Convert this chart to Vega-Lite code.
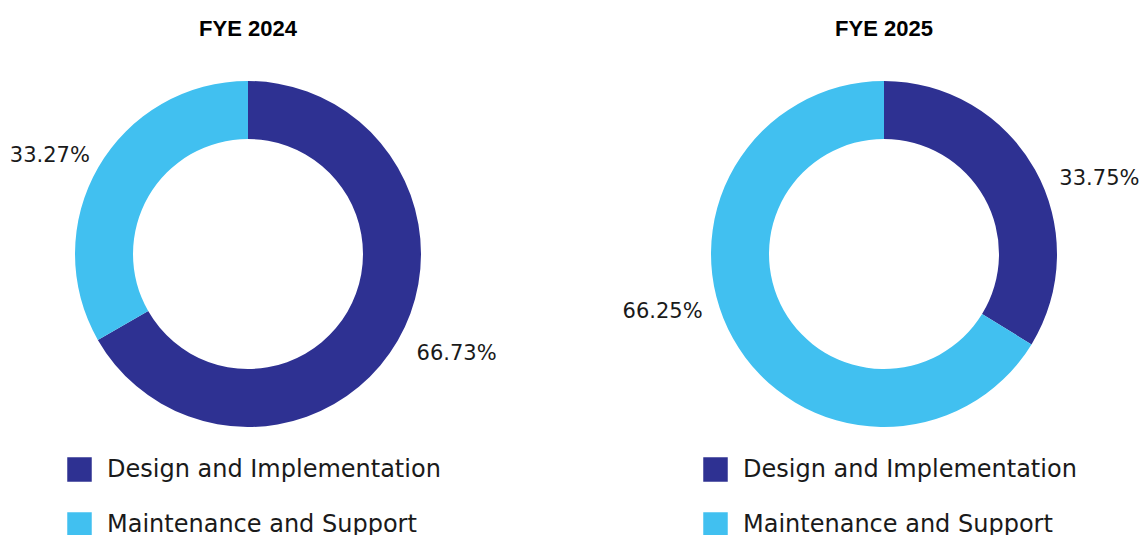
{
  "$schema": "https://vega.github.io/schema/vega-lite/v6.json",
  "padding": {"left": 5, "top": 18, "right": 5, "bottom": 5},
  "background": "white",
  "config": {
    "view": {"stroke": null},
    "title": {"font": "Liberation Sans", "fontSize": 22, "fontWeight": "bold", "color": "#000000", "anchor": "middle", "offset": 5},
    "legend": {
      "orient": "none",
      "legendX": 62,
      "legendY": 411,
      "title": null,
      "symbolType": "square",
      "symbolSize": 600,
      "symbolStrokeWidth": 0,
      "symbolOpacity": 1,
      "labelFont": "DejaVu Sans",
      "labelFontSize": 24,
      "labelColor": "#1a1a1a",
      "labelOffset": 15,
      "rowPadding": 30,
      "labelLimit": 500
    }
  },
  "spacing": 125,
  "resolve": {"legend": {"color": "independent"}},
  "datasets": {
    "shares": [
      {"year": "FYE 2024", "category": "Design and Implementation", "value": 66.73, "label": "66.73%"},
      {"year": "FYE 2024", "category": "Maintenance and Support", "value": 33.27, "label": "33.27%"},
      {"year": "FYE 2025", "category": "Design and Implementation", "value": 33.75, "label": "33.75%"},
      {"year": "FYE 2025", "category": "Maintenance and Support", "value": 66.25, "label": "66.25%"}
    ]
  },
  "hconcat": [
    {
      "title": "FYE 2024",
      "width": 486,
      "height": 416,
      "data": {"name": "shares"},
      "transform": [{"filter": "datum.year === 'FYE 2024'"}],
      "encoding": {
        "theta": {"field": "value", "type": "quantitative", "stack": true},
        "color": {
          "field": "category", "type": "nominal",
          "scale": {"domain": ["Design and Implementation", "Maintenance and Support"], "range": ["#2E3192", "#41C0F0"]}
        },
        "order": {"field": "category", "sort": "ascending"}
      },
      "layer": [
        {"mark": {"type": "arc", "outerRadius": 173, "innerRadius": 115, "stroke": null}},
        {
          "mark": {"type": "text", "radius": 225, "font": "DejaVu Sans", "fontSize": 21, "dx": 14, "dy": -13},
          "encoding": {
            "color": {"value": "#1a1a1a"},
            "text": {"condition": {"test": "datum.category === 'Design and Implementation'", "field": "label"}, "value": ""}
          }
        },
        {
          "mark": {"type": "text", "radius": 221, "font": "DejaVu Sans", "fontSize": 21, "dx": -7, "dy": 13},
          "encoding": {
            "color": {"value": "#1a1a1a"},
            "text": {"condition": {"test": "datum.category === 'Maintenance and Support'", "field": "label"}, "value": ""}
          }
        }
      ]
    },
    {
      "title": "FYE 2025",
      "width": 486,
      "height": 416,
      "data": {"name": "shares"},
      "transform": [{"filter": "datum.year === 'FYE 2025'"}],
      "encoding": {
        "theta": {"field": "value", "type": "quantitative", "stack": true},
        "color": {
          "field": "category", "type": "nominal",
          "scale": {"domain": ["Design and Implementation", "Maintenance and Support"], "range": ["#2E3192", "#41C0F0"]}
        },
        "order": {"field": "category", "sort": "ascending"}
      },
      "layer": [
        {"mark": {"type": "arc", "outerRadius": 173, "innerRadius": 115, "stroke": null}},
        {
          "mark": {"type": "text", "radius": 240, "font": "DejaVu Sans", "fontSize": 21, "dx": 6, "dy": 42},
          "encoding": {
            "color": {"value": "#1a1a1a"},
            "text": {"condition": {"test": "datum.category === 'Design and Implementation'", "field": "label"}, "value": ""}
          }
        },
        {
          "mark": {"type": "text", "radius": 240, "font": "DejaVu Sans", "fontSize": 21, "dx": -12, "dy": -59},
          "encoding": {
            "color": {"value": "#1a1a1a"},
            "text": {"condition": {"test": "datum.category === 'Maintenance and Support'", "field": "label"}, "value": ""}
          }
        }
      ]
    }
  ]
}
